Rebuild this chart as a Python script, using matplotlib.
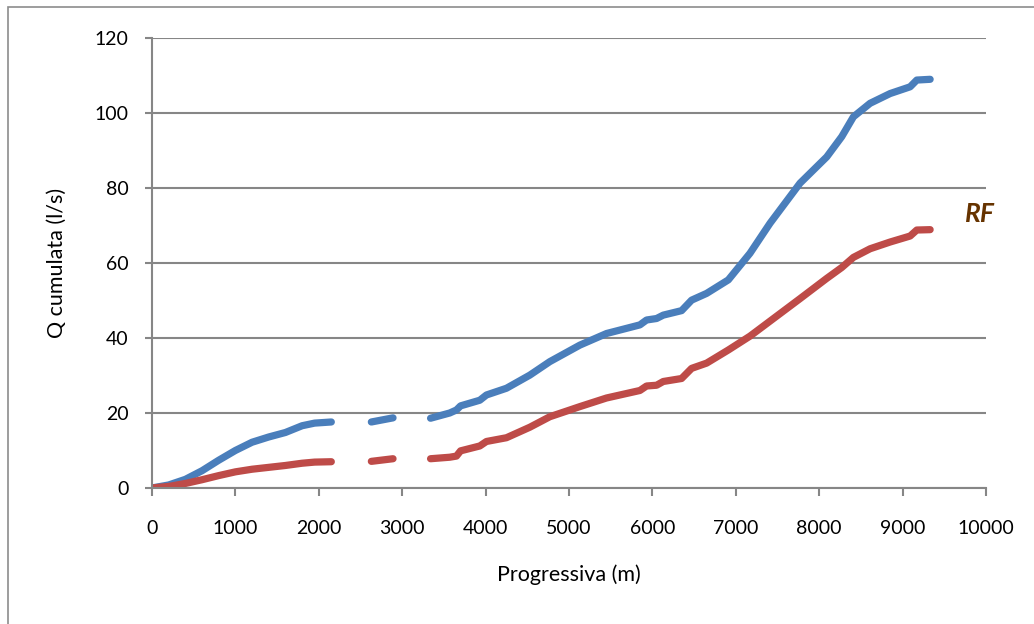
import numpy as np
import matplotlib.pyplot as plt
from matplotlib.patches import Rectangle

plt.rcParams['font.family'] = ['Lato', 'DejaVu Sans']

# progressive distance (m); NaN marks the breaks between stretches
prog = [0, 200, 400, 600, 800, 1000, 1200, 1400, 1600, 1800, 1950, 2150, np.nan,
        2630, 2890, np.nan,
        3340, 3570, 3650, 3700, 3930, 4010, 4250, 4530, 4770, 5130, 5450, 5850,
        5930, 6050, 6130, 6350, 6470, 6650, 6910, 7170, 7410, 7770, 8090, 8270,
        8410, 8610, 8850, 9090, 9170, 9330]

# cumulated discharge (l/s)
q_tot = [0, 0.8, 2.3, 4.6, 7.4, 10.0, 12.2, 13.6, 14.8, 16.6, 17.3, 17.6, np.nan,
         17.6, 18.7, np.nan,
         18.6, 20.0, 20.8, 21.9, 23.4, 24.8, 26.6, 30.1, 33.7, 38.1, 41.2, 43.5,
         44.8, 45.2, 46.1, 47.3, 50.1, 51.9, 55.5, 62.6, 70.6, 81.3, 88.3, 93.7,
         99.0, 102.6, 105.2, 107.0, 108.8, 109.0]

q_rf = [0, 0.4, 1.2, 2.2, 3.3, 4.3, 5.0, 5.5, 6.0, 6.6, 6.9, 7.0, np.nan,
        7.1, 7.8, np.nan,
        7.8, 8.2, 8.5, 9.9, 11.2, 12.4, 13.4, 16.2, 19.0, 21.7, 24.0, 26.0,
        27.2, 27.4, 28.4, 29.2, 31.9, 33.3, 36.8, 40.5, 44.5, 50.5, 55.9, 58.8,
        61.5, 63.8, 65.6, 67.2, 68.8, 68.9]

fig = plt.figure(figsize=(10.34, 6.24), dpi=100)
ax = fig.add_axes([0.147, 0.218, 0.8066, 0.721])

# chart area border
fig.patches.append(Rectangle((8 / 1034, -0.1), 1.2, 1.1 - 7 / 624, transform=fig.transFigure,
                             fill=False, edgecolor='#8c8c8c', linewidth=1.2))

ax.plot(prog, q_tot, color='#4A7EBB', lw=5.2, solid_capstyle='round', solid_joinstyle='round')
ax.plot(prog, q_rf, color='#BE4B48', lw=5.2, solid_capstyle='round', solid_joinstyle='round')

ax.text(9930, 73, 'RF', color='#663300', fontsize=19, fontweight='bold', fontstyle='italic',
        ha='center', va='center')

ax.set_xlim(0, 10000)
ax.set_ylim(0, 120)
ax.set_xticks(np.arange(0, 10001, 1000))
ax.set_yticks(np.arange(0, 121, 20))
ax.yaxis.grid(True, color='#868686', lw=1.5)
ax.set_axisbelow(True)

for s in ['top', 'right']:
    ax.spines[s].set_visible(False)
for s in ['left', 'bottom']:
    ax.spines[s].set_color('#868686')
    ax.spines[s].set_linewidth(1.5)

ax.tick_params(axis='x', direction='out', length=6, width=1.5, color='#868686', pad=17, labelsize=14)
ax.tick_params(axis='y', direction='out', length=5, width=1.5, color='#868686', pad=12, labelsize=14)

ax.set_xlabel('Progressiva (m)', fontsize=15.5, labelpad=20)
ax.set_ylabel('Q cumulata (l/s)', fontsize=15.5, labelpad=20)

fig.savefig('out.png', dpi=100)
